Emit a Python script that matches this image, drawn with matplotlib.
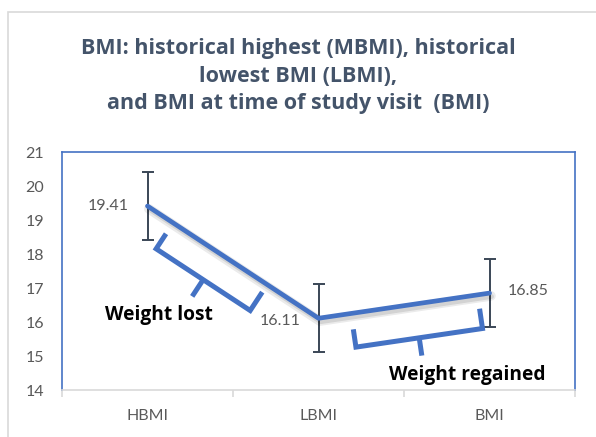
import matplotlib
matplotlib.use("Agg")
import matplotlib.pyplot as plt
import matplotlib.patheffects as pe
from matplotlib.patches import Rectangle
import numpy as np

categories = ["HBMI", "LBMI", "BMI"]
values = [19.41, 16.11, 16.85]
errors = [1.0, 1.0, 1.0]
value_labels = ["19.41", "16.11", "16.85"]
yticks = [14, 15, 16, 17, 18, 19, 20, 21]
title = "BMI: historical highest (MBMI), historical\nlowest BMI (LBMI),\nand BMI at time of study visit  (BMI)"

BLUE = "#4472C4"
FONT = "Lato"
BOLDFONT = "Open Sans"
plt.rcParams["font.family"] = [FONT, "DejaVu Sans"]

W, H = 596, 437
fig = plt.figure(figsize=(W / 100, H / 100), dpi=100)
fig.patch.set_facecolor("white")

# outer chart frame
fig.patches.append(Rectangle((8 / W, -0.1), 1.2, 1 - 12 / H + 0.1, transform=fig.transFigure,
                             fill=False, edgecolor="#D9D9D9", linewidth=1.2))

ax = fig.add_axes([62 / W, (H - 390) / H, (575 - 62) / W, (390 - 152) / H])
x = np.arange(len(categories))
ax.set_xlim(-0.5, len(categories) - 0.5)
ax.set_ylim(yticks[0], yticks[-1])

ax.errorbar(x, values, yerr=errors, fmt="none", ecolor="#3A4656", elinewidth=1.4,
            capsize=4, capthick=1.4, zorder=3)
shadow = [pe.SimpleLineShadow(offset=(1, -2), shadow_color="black", alpha=0.08, linewidth=7),
          pe.SimpleLineShadow(offset=(1.5, -2.5), shadow_color="black", alpha=0.10),
          pe.Normal()]
ax.plot(x, values, color=BLUE, linewidth=3.4, solid_capstyle="round", zorder=4,
        path_effects=shadow)

# data labels
offsets = [(-19, 0, "right"), (-18, -3, "right"), (18, 2, "left")]
for xi, v, lab, (dx, dy, ha) in zip(x, values, value_labels, offsets):
    ax.annotate(lab, (xi, v), xytext=(dx, dy), textcoords="offset pixels",
                ha=ha, va="center", fontsize=11.5, color="#595959", zorder=5)

# brackets (drawn in display space, parallel to each segment)
def bracket(i, f0, f1, off, rise0, rise1, tick):
    p0 = ax.transData.transform((x[i], values[i]))
    p1 = ax.transData.transform((x[i + 1], values[i + 1]))
    d = (p1 - p0) / np.linalg.norm(p1 - p0)
    n = np.array([d[1], -d[0]])
    if n[1] > 0:
        n = -n  # points below the line (display y is up)
    a = p0 + (p1 - p0) * f0 + n * off
    b = p0 + (p1 - p0) * f1 + n * off
    pts = [a - n * rise0, a, b, b - n * rise1]
    m = (a + b) / 2
    inv = ax.transData.inverted()
    P = inv.transform(np.array(pts))
    ax.plot(P[:, 0], P[:, 1], color=BLUE, linewidth=3.6, solid_joinstyle="miter",
            solid_capstyle="butt", zorder=4)
    T = inv.transform(np.array([m, m + n * tick]))
    ax.plot(T[:, 0], T[:, 1], color=BLUE, linewidth=3.6, solid_capstyle="butt", zorder=4)

bracket(0, 0.15, 0.70, 31, 18, 22, 20)
bracket(1, 0.19, 0.93, 34, 18, 20, 18)

ax.text(0.065, 16.2, "Weight lost", fontsize=13.8, fontweight="bold", color="black",
        family=[BOLDFONT, "DejaVu Sans"], ha="center", va="center", zorder=5)
ax.text(1.87, 14.45, "Weight regained", fontsize=13.8, fontweight="bold", color="black",
        family=[BOLDFONT, "DejaVu Sans"], ha="center", va="center", zorder=5)

# axes styling
for s in ["left", "top", "right"]:
    ax.spines[s].set_color(BLUE)
    ax.spines[s].set_linewidth(1.2)
ax.spines["bottom"].set_color("#D9D9D9")
ax.spines["bottom"].set_linewidth(1.2)
ax.set_yticks(yticks)
ax.set_yticklabels([str(t) for t in yticks], fontsize=11.5, color="#595959")
ax.tick_params(axis="y", length=0, pad=13)
ax.set_xticks(x)
ax.set_xticklabels(categories, fontsize=11.5, color="#595959")
ax.tick_params(axis="x", which="major", length=0, pad=14)
ax.set_xticks(np.arange(-0.5, len(categories), 1.0), minor=True)
ax.tick_params(axis="x", which="minor", length=5, color="#D9D9D9", width=1.2)

fig.text(0.5, 1 - 76 / H, title, ha="center", va="center", fontsize=15.5, fontweight="bold",
         family=[BOLDFONT, "DejaVu Sans"], color="#44546A", linespacing=1.4)

fig.savefig("out.png", dpi=100, facecolor="white")
